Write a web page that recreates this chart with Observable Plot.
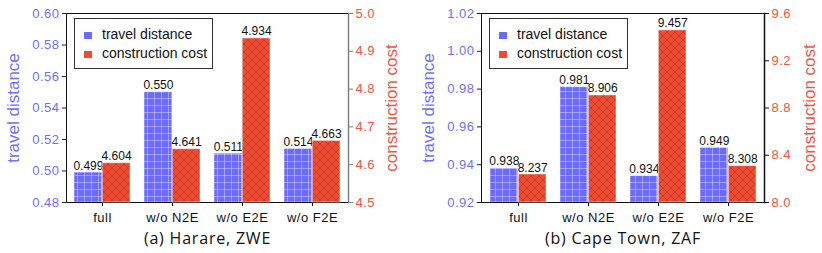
<!DOCTYPE html>
<html><head><meta charset="utf-8">
<script src="https://cdn.jsdelivr.net/npm/d3@7"></script>
<script src="https://cdn.jsdelivr.net/npm/@observablehq/plot@0.6"></script>
<style>
body{margin:0;background:#fff;font-family:"Liberation Sans",Arial,sans-serif;}
#root{position:relative;width:822px;height:253px;}
.panel{position:absolute;top:0;width:411px;height:253px;}
.panel svg{position:absolute;left:0;top:0;overflow:visible;}
.legend{position:absolute;border:1px solid #333;background:#fff;font-size:14px;color:#111;box-sizing:border-box;}
.legend .sw{position:absolute;width:8px;height:7px;}
.legend .lab{position:absolute;white-space:nowrap;}
</style></head>
<body><div id="root"></div>
<script>
const categories = ["full", "w/o N2E", "w/o E2E", "w/o F2E"];
const harareTravel = [0.499, 0.550, 0.511, 0.514];
const harareCost = [4.604, 4.641, 4.934, 4.663];
const capeTravel = [0.938, 0.981, 0.934, 0.949];
const capeCost = [8.237, 8.906, 9.457, 8.308];
const harareTravelTicks = [0.48, 0.50, 0.52, 0.54, 0.56, 0.58, 0.60];
const harareCostTicks = [4.5, 4.6, 4.7, 4.8, 4.9, 5.0];
const capeTravelTicks = [0.92, 0.94, 0.96, 0.98, 1.00, 1.02];
const capeCostTicks = [8.0, 8.4, 8.8, 9.2, 9.6];
const seriesNames = ["travel distance", "construction cost"];
const subtitles = ["(a) Harare, ZWE", "(b) Cape Town, ZAF"];

const BLUE = "#6b6bff", RED = "#ee4b33", BLUE_TXT = "#6f6fff", RED_TXT = "#f4553a";
const W = 411, H = 253, MT = 13, MB = 51;

const defs = `<defs>
<pattern id="pBlue" width="7" height="7" patternUnits="userSpaceOnUse">
<rect width="7" height="7" fill="${BLUE}"/>
<path d="M0 0.5H7M0.5 0V7" stroke="#fff" stroke-opacity="0.35" stroke-width="1"/>
</pattern>
<pattern id="pRed" width="8" height="8" patternUnits="userSpaceOnUse">
<rect width="8" height="8" fill="${RED}"/>
<path d="M0 0L8 8M8 0L0 8" stroke="#7a1f10" stroke-opacity="0.55" stroke-width="0.6"/>
</pattern></defs>`;

function addDefs(svg){ svg.insertAdjacentHTML("afterbegin", defs); return svg; }
const baseStyle = {fontFamily:"Liberation Sans, Arial, sans-serif", background:"transparent", overflow:"visible"};

function panel(opts){
  const {left, travel, cost, tDomain, tTicks, tFmt, cDomain, cTicks, cFmt, mL, mR, subtitle, spineColor, legendLeft} = opts;
  const data = categories.map((c,i)=>({cat:c, travel:travel[i], cost:cost[i]}));
  const step = (W - mL - mR) / 4, half = step*0.8/2;
  const xOpt = {type:"band", domain:categories, paddingInner:0.2, paddingOuter:0.1, align:0.5};
  const div = document.createElement("div");
  div.className = "panel"; div.style.left = left + "px";
  const A = Plot.plot({
    width:W, height:H, marginLeft:mL, marginRight:mR, marginTop:MT, marginBottom:MB,
    style:baseStyle,
    x:{...xOpt, axis:null}, y:{domain:tDomain, axis:null},
    marks:[
      Plot.barY(data, {x:"cat", y1:tDomain[0], y2:"travel", insetRight:half, fill:"url(#pBlue)", stroke:"#fff", strokeOpacity:0.45, strokeWidth:1}),
      Plot.text(data, {x:"cat", y:"travel", dx:-half/2, dy:-3, lineAnchor:"bottom", text:d=>d.travel.toFixed(3), fontSize:12, fill:"#111"}),
      Plot.axisY(tTicks, {tickSize:4, tickFormat:()=>"", stroke:"#222", label:null}),
      Plot.axisY(tTicks, {tickSize:0, tickPadding:7, tickFormat:tFmt, fill:BLUE_TXT, fontSize:13, label:null, className:"tl"}),
      Plot.axisX({tickSize:4, tickPadding:6, fontSize:13, fill:"#111", label:null, className:"cl"}),
      Plot.frame({stroke:"#111"}),
      Plot.text([seriesNames[0]], {frameAnchor:"left", textAnchor:"middle", rotate:-90, dx:-53, fontSize:17, fill:BLUE_TXT}),
      Plot.text([subtitle], {frameAnchor:"bottom", textAnchor:"middle", dy:41, fontSize:16, fontFamily:"Open Sans", fill:"#111", className:"sub"})
    ]
  });
  const B = Plot.plot({
    width:W, height:H, marginLeft:mL, marginRight:mR, marginTop:MT, marginBottom:MB,
    style:baseStyle,
    x:{...xOpt, axis:null}, y:{domain:cDomain, axis:null},
    marks:[
      Plot.barY(data, {x:"cat", y1:cDomain[0], y2:"cost", insetLeft:half, fill:"url(#pRed)", stroke:"#fff", strokeOpacity:0.45, strokeWidth:1}),
      Plot.text(data, {x:"cat", y:"cost", dx:half/2, dy:-3, lineAnchor:"bottom", text:d=>d.cost.toFixed(3), fontSize:12, fill:"#111"}),
      Plot.frame({anchor:"right", stroke:spineColor, strokeWidth:1.5}),
      Plot.axisY(cTicks, {anchor:"right", tickSize:4, tickFormat:()=>"", stroke:spineColor, label:null}),
      Plot.axisY(cTicks, {anchor:"right", tickSize:0, tickPadding:7, tickFormat:cFmt, fill:RED_TXT, fontSize:13, label:null, className:"tl"}),
      Plot.text([seriesNames[1]], {frameAnchor:"right", textAnchor:"middle", rotate:-90, dx:opts.rLabelDx, fontSize:17, fill:RED_TXT})
    ]
  });
  addDefs(A);
  d3.select(A).selectAll(".tl text").attr("letter-spacing", 0.5);
  d3.select(B).selectAll(".tl text").attr("letter-spacing", 0.5);
  d3.select(A).selectAll(".cl text").attr("letter-spacing", 0.5);
  d3.select(A).selectAll(".sub text").attr("letter-spacing", 0.8);
  div.appendChild(A); div.appendChild(B);
  const lg = document.createElement("div");
  lg.className = "legend";
  lg.style.left = legendLeft + "px"; lg.style.top = "18px"; lg.style.width = "139px"; lg.style.height = "51px";
  lg.innerHTML = `
   <div class="sw" style="left:9px;top:13px;background:${BLUE}"></div>
   <div class="lab" style="left:27px;top:7px">${seriesNames[0]}</div>
   <div class="sw" style="left:9px;top:32px;background:${RED}"></div>
   <div class="lab" style="left:27px;top:26px">${seriesNames[1]}</div>`;
  div.appendChild(lg);
  return div;
}

const root = document.getElementById("root");
root.appendChild(panel({left:0, travel:harareTravel, cost:harareCost,
  tDomain:[0.48,0.60], tTicks:harareTravelTicks, tFmt:d3.format(".2f"),
  cDomain:[4.5,5.0], cTicks:harareCostTicks, cFmt:d3.format(".1f"),
  mL:66, mR:63, subtitle:subtitles[0], spineColor:"#808080", legendLeft:74, rLabelDx:43}));
root.appendChild(panel({left:411, travel:capeTravel, cost:capeCost,
  tDomain:[0.92,1.02], tTicks:capeTravelTicks, tFmt:d3.format(".2f"),
  cDomain:[8.0,9.6], cTicks:capeCostTicks, cFmt:d3.format(".1f"),
  mL:70, mR:58, subtitle:subtitles[1], spineColor:"#111", legendLeft:78, rLabelDx:45}));
</script></body></html>
